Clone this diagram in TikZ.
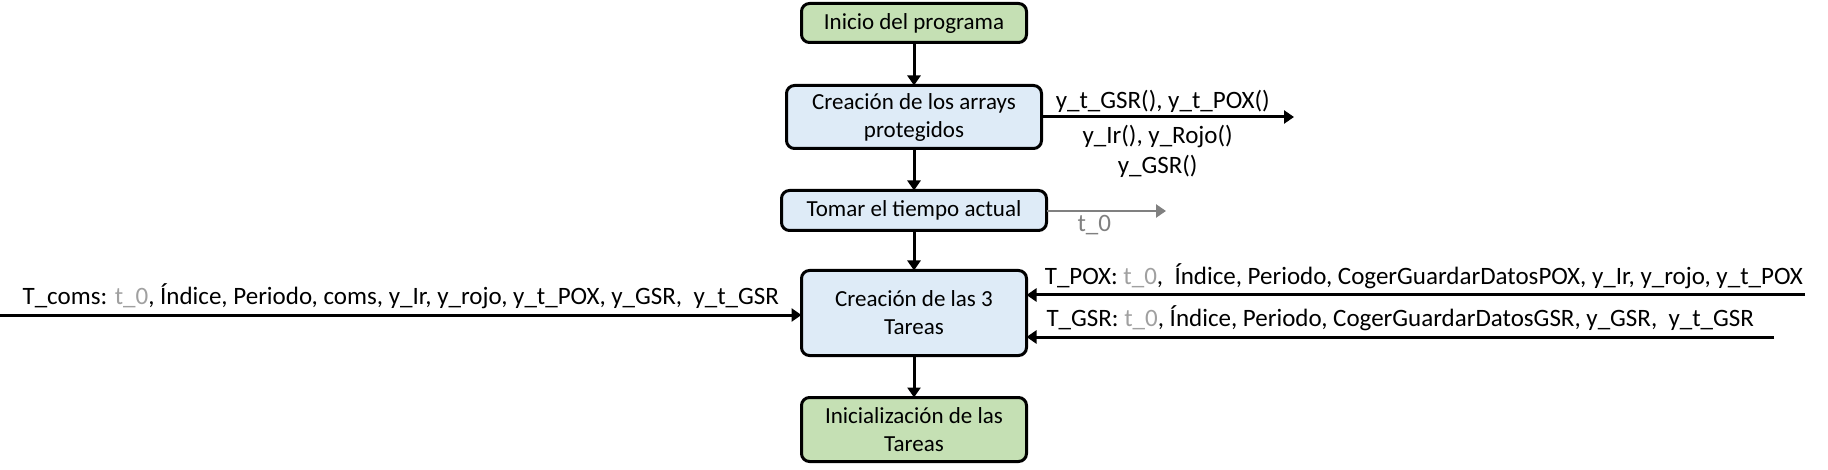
\documentclass[tikz,border=0pt]{standalone}
\usepackage{fontspec}
\setmainfont{Carlito}
\usepackage{xcolor}
\definecolor{boxblue}{RGB}{222,235,247}
\definecolor{boxgreen}{RGB}{197,224,180}
\definecolor{arrowgray}{RGB}{128,128,128}
\definecolor{lightgray}{RGB}{160,160,160}
\usetikzlibrary{arrows.meta, positioning, calc}

\begin{document}
\begin{tikzpicture}[->,>={Triangle[length=10pt,width=13pt]},x=1pt,y=-1pt,line width=3pt,
         node distance=42pt,
         box/.style={draw,rounded corners=8pt,align=center,outer sep=0pt,minimum width=225pt,
         font=\fontsize{23}{28}\selectfont},
         bluebox/.style={box,fill=boxblue},
         greenbox/.style={box,fill=boxgreen},
         lbl/.style={font=\fontsize{25}{30}\selectfont,align=center,inner sep=3pt}]
   \useasboundingbox (0,0) rectangle (1828,470);
   \node [greenbox,minimum height=39pt] (inicio) at (914,23) {Inicio del programa};
   \node [bluebox,minimum width=255pt,minimum height=63pt,below=43pt of inicio] (arrays)
      {Creación de los arrays\\protegidos};
   \node [bluebox,minimum width=265pt,minimum height=40pt,below=of arrays] (tiempo)
      {Tomar el tiempo actual};
   \node [bluebox,minimum height=85pt,below=40pt of tiempo] (tareas)
      {Creación de las 3\\Tareas};
   \node [greenbox,minimum height=64pt,below=of tareas] (init)
      {Inicialización de las\\Tareas};

   \coordinate (arraysout) at (1294,117);
   \coordinate (tout) at (1166,211);
   \coordinate (comsin) at (0,315);
   \coordinate (poxin) at (1805,295);
   \coordinate (gsrin) at (1774,337);

   \draw (inicio) -- (arrays);
   \draw (arrays) -- (tiempo);
   \draw (tiempo) -- (tareas);
   \draw (tareas) -- (init);

   \draw (arrays.east) -- node[lbl,above,pos=0.48] (arraysup) {y\_t\_GSR(), y\_t\_POX()}
      node[lbl,below=4pt,pos=0.46] (arraysdown) {y\_Ir(), y\_Rojo()\\y\_GSR()} (arraysout);
   \draw [arrowgray,line width=2.4pt] (tiempo.east |- tout) -- node[lbl,below,pos=0.4] (tlabel) {t\_0} (tout);
   \draw (comsin) -- node[lbl,above=2pt] (comslabel)
      {T\_coms: \textcolor{lightgray}{t\_0}, Índice, Periodo, coms, y\_Ir, y\_rojo, y\_t\_POX, y\_GSR,\ \ y\_t\_GSR}
      (tareas.west |- comsin);
   \draw (poxin) -- node[lbl,above=2pt,xshift=8pt] (poxlabel)
      {T\_POX: \textcolor{lightgray}{t\_0},\ \ Índice, Periodo, CogerGuardarDatosPOX, y\_Ir, y\_rojo, y\_t\_POX}
      (tareas.east |- poxin);
   \draw (gsrin) -- node[lbl,above=2pt] (gsrlabel)
      {T\_GSR: \textcolor{lightgray}{t\_0}, Índice, Periodo, CogerGuardarDatosGSR, y\_GSR,\ \ y\_t\_GSR}
      (tareas.east |- gsrin);
\end{tikzpicture}
\end{document}
